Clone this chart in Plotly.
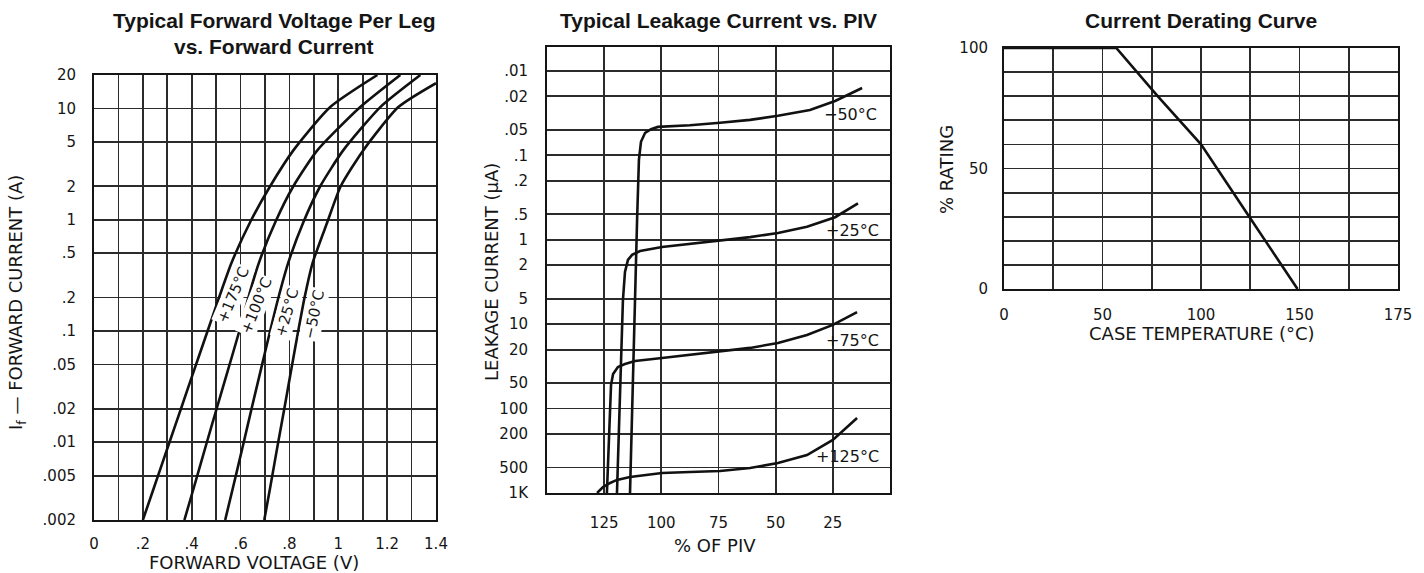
import math
import plotly.graph_objects as go

W, H = 1424, 573

# ---------------- Left chart: forward voltage vs forward current ----------------
fwd_current_A = [0.002, 0.004, 0.01, 0.02, 0.042, 0.1, 0.2, 0.41, 0.95, 2.0, 4.2, 10.3, 20]
vf_p175 = [0.200, 0.247, 0.309, 0.356, 0.406, 0.465, 0.512, 0.563, 0.639, 0.721, 0.816, 0.967, 1.160]
vf_p100 = [0.370, 0.410, 0.462, 0.502, 0.545, 0.595, 0.632, 0.675, 0.742, 0.816, 0.914, 1.090, 1.254]
vf_p25 = [0.537, 0.570, 0.613, 0.645, 0.680, 0.721, 0.755, 0.795, 0.857, 0.926, 1.020, 1.172, 1.336]
fwd_current_m50_A = [0.002, 0.004, 0.01, 0.02, 0.042, 0.1, 0.2, 0.41, 0.95, 2.0, 4.2, 10.3, 16.9]
vf_m50 = [0.697, 0.722, 0.754, 0.779, 0.805, 0.836, 0.862, 0.895, 0.955, 1.010, 1.102, 1.246, 1.400]

left_x_major = [0, 0.2, 0.4, 0.6, 0.8, 1.0, 1.2, 1.4]
left_x_text = ["0", ".2", ".4", ".6", ".8", "1", "1.2", "1.4"]
left_x_minor = [0.1, 0.3, 0.5, 0.7, 0.9, 1.1, 1.3]
left_y_ticks = [0.002, 0.005, 0.01, 0.02, 0.05, 0.1, 0.2, 0.5, 1, 2, 5, 10, 20]
left_y_text = [".002", ".005", ".01", ".02", ".05", ".1", ".2", ".5", "1", "2", "5", "10", "20"]

# ---------------- Middle chart: leakage current vs % of PIV ----------------
piv_m50 = [113.7, 112.0, 110.6, 109.8, 108.9, 107.1, 104.5, 101.5, 87.5, 74.3, 61.2, 49.0, 35.0, 24.0, 12.2]
leak_m50 = [1000, 11.7, 0.58, 0.113, 0.069, 0.054, 0.049, 0.046, 0.044, 0.041, 0.038, 0.034, 0.029, 0.0227, 0.0159]
piv_p25 = [119.4, 118.1, 116.8, 115.9, 114.6, 112.8, 109.3, 99.7, 87.5, 74.3, 61.2, 49.0, 36.3, 24.0, 14.0]
leak_p25 = [1000, 79, 5.2, 2.4, 1.73, 1.51, 1.36, 1.22, 1.12, 1.03, 0.93, 0.83, 0.70, 0.54, 0.37]
piv_p75 = [123.8, 122.9, 122.4, 122.0, 121.1, 119.0, 115.9, 111.5, 99.7, 87.5, 74.3, 61.2, 49.0, 36.3, 25.0, 14.4]
leak_p75 = [1000, 235, 79, 52.5, 38.9, 32.1, 29.6, 27.3, 25.2, 23.2, 21.3, 19.1, 16.7, 13.4, 10.2, 7.2]
piv_p125 = [128.1, 125.5, 122.4, 119.4, 113.7, 99.7, 87.5, 74.3, 61.2, 49.0, 36.3, 25.0, 14.4]
leak_p125 = [1000, 850, 760, 700, 646, 579, 564, 548, 505, 441, 355, 235, 129]

mid_x_major = [125, 100, 75, 50, 25]
mid_x_text = ["125", "100", "75", "50", "25"]
mid_y_ticks = [0.01, 0.02, 0.05, 0.1, 0.2, 0.5, 1, 2, 5, 10, 20, 50, 100, 200, 500, 1000]
mid_y_text = [".01", ".02", ".05", ".1", ".2", ".5", "1", "2", "5", "10", "20", "50", "100", "200", "500", "1K"]

# ---------------- Right chart: current derating ----------------
case_temp_C = [0, 57, 78, 100, 124.5, 149]
rating_pct = [100, 100, 80, 60, 30, 0]

right_x_major = [0, 50, 100, 150, 200]
right_x_text = ["0", "50", "100", "150", "175"]
right_x_minor = [25, 75, 125, 175]
right_y_major = [0, 50, 100]
right_y_text = ["0", "50", "100"]
right_y_minor = [10, 20, 30, 40, 60, 70, 80, 90]


def px(x):
    return x / W


def py(y):
    return 1 - y / H


INK = "#151515"
GRID = "#2b2b2b"
TICKFONT = dict(family="DejaVu Sans", size=15, color=INK)
AXFONT = dict(family="DejaVu Sans", size=18, color=INK)
TITLEFONT = dict(family="Liberation Sans", size=21, color=INK, weight="bold")
CURVE = dict(color="#111111", width=2.6)

fig = go.Figure()

# left curves
for v, i in [(vf_p175, fwd_current_A), (vf_p100, fwd_current_A), (vf_p25, fwd_current_A), (vf_m50, fwd_current_m50_A)]:
    fig.add_trace(go.Scatter(x=v, y=i, mode="lines", line=dict(**CURVE, shape="spline", smoothing=0.6),
                             xaxis="x", yaxis="y", showlegend=False, hoverinfo="skip"))
# middle curves
for p, l in [(piv_m50, leak_m50), (piv_p25, leak_p25), (piv_p75, leak_p75), (piv_p125, leak_p125)]:
    fig.add_trace(go.Scatter(x=p, y=l, mode="lines", line=CURVE,
                             xaxis="x2", yaxis="y2", showlegend=False, hoverinfo="skip"))
# right curve
fig.add_trace(go.Scatter(x=case_temp_C, y=rating_pct, mode="lines", line=CURVE,
                         xaxis="x3", yaxis="y3", showlegend=False, hoverinfo="skip", cliponaxis=False))

common = dict(showline=True, mirror=True, linecolor=INK, linewidth=2, showgrid=True,
              gridcolor=GRID, gridwidth=1.8, zeroline=False, ticks="", tickfont=TICKFONT,
              tickmode="array", automargin=False)


def minor(vals):
    return dict(tickmode="array", tickvals=vals, showgrid=True, gridcolor=GRID, gridwidth=1.8, ticks="")


fig.update_layout(
    width=W, height=H,
    margin=dict(l=0, r=0, t=0, b=0),
    paper_bgcolor="white", plot_bgcolor="white",
    showlegend=False,
    xaxis=dict(**common, domain=[px(94), px(436)], range=[0, 1.4], tickvals=left_x_major,
               ticktext=left_x_text, minor=minor(left_x_minor), anchor="y", ticklabelstandoff=9),
    yaxis=dict(**common, domain=[py(520), py(75)], type="log",
               range=[math.log10(0.002), math.log10(20)], tickvals=left_y_ticks,
               ticktext=left_y_text, anchor="x", ticklabelstandoff=13),
    xaxis2=dict(**common, domain=[px(547), px(890)], range=[150, 0], tickvals=mid_x_major,
                ticktext=mid_x_text, anchor="y2", ticklabelstandoff=15),
    yaxis2=dict(**common, domain=[py(493), py(47)], type="log",
                range=[math.log10(1000), math.log10(0.0052)], tickvals=mid_y_ticks,
                ticktext=mid_y_text, anchor="x2", ticklabelstandoff=14),
    xaxis3=dict(**common, domain=[px(1004), px(1398)], range=[0, 200], tickvals=right_x_major,
                ticktext=right_x_text, minor=minor(right_x_minor), anchor="y3", ticklabelstandoff=11),
    yaxis3=dict(**common, domain=[py(289), py(48)], range=[0, 100], tickvals=right_y_major,
                ticktext=right_y_text, minor=minor(right_y_minor), anchor="x3", ticklabelstandoff=11),
)

ann = []


def text(x, y, s, font, angle=0, **kw):
    ann.append(dict(x=px(x), y=py(y), xref="paper", yref="paper", text=s, showarrow=False,
                    font=font, textangle=angle, xanchor="center", yanchor="middle", **kw))


# titles
text(274, 21, "Typical Forward Voltage Per Leg", TITLEFONT)
text(274, 46, "vs. Forward Current", TITLEFONT)
text(718, 21, "Typical Leakage Current vs. PIV", TITLEFONT)
text(1201, 21, "Current Derating Curve", TITLEFONT)

# axis titles
text(254, 562, "FORWARD VOLTAGE (V)", AXFONT)
text(17, 303, "I<sub>f</sub> — FORWARD CURRENT (A)", AXFONT, angle=-90)
text(715, 545, "% OF PIV", AXFONT)
text(491, 272, "LEAKAGE CURRENT (μA)", AXFONT, angle=-90)
text(1202, 333, "CASE TEMPERATURE (°C)", AXFONT)
text(946, 170, "% RATING", AXFONT, angle=-90)

# curve labels, left chart (data coordinates)
LBL = dict(family="DejaVu Sans", size=15, color=INK)
for xv, iv, s, a in [(0.57, 0.21, "+175°C", -67), (0.664, 0.168, "+100°C", -68),
                     (0.791, 0.148, "+25°C", -74), (0.902, 0.142, "−50°C", -78)]:
    ann.append(dict(x=xv, y=math.log10(iv), xref="x", yref="y", text=s, showarrow=False,
                    font=LBL, textangle=a, bgcolor="white", borderpad=1))

# curve labels, middle chart
LBL2 = dict(family="DejaVu Sans", size=16, color=INK)
for pv, lv, s in [(17.2, 0.0332, "−50°C"), (16.2, 0.766, "+25°C"),
                  (16.2, 15.4, "+75°C"), (18.8, 374, "+125°C")]:
    ann.append(dict(x=pv, y=math.log10(lv), xref="x2", yref="y2", text=s, showarrow=False,
                    font=LBL2))

fig.update_layout(annotations=ann)
fig.write_html("out.html", config={"displayModeBar": False, "staticPlot": True},
               post_script="document.body.style.margin='0';document.body.style.overflow='hidden';")
